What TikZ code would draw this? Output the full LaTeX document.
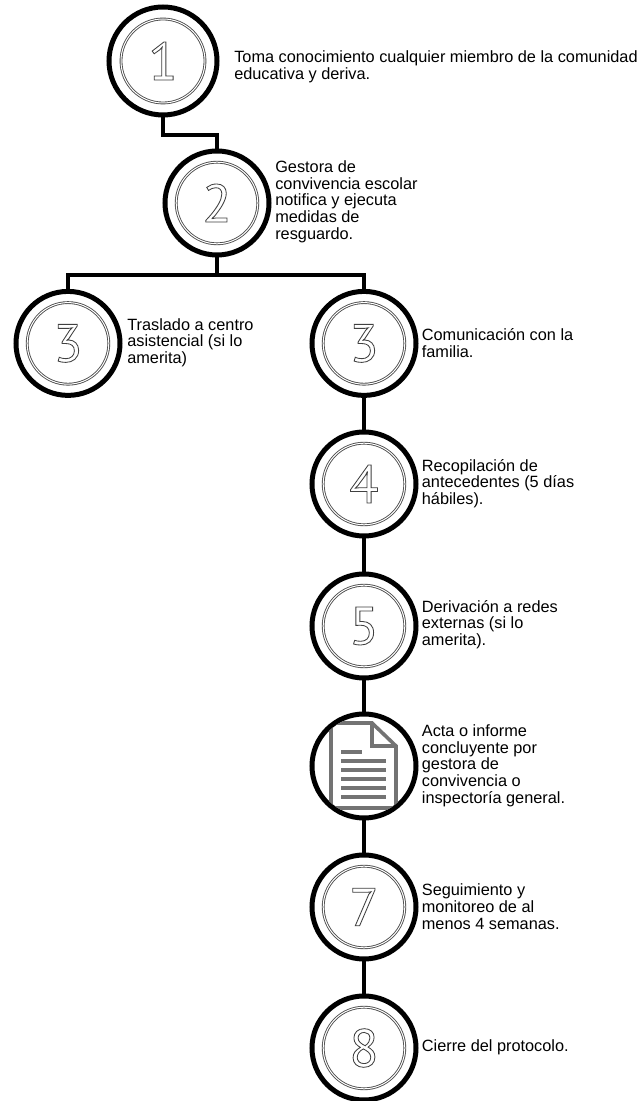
\documentclass[tikz,border=0pt]{standalone}
\usepackage{fontspec}
\setmainfont{Liberation Sans}
\newfontfamily\digitfont{PT Sans}
\usetikzlibrary{positioning}
\newcommand{\outlined}[1]{\special{pdf:code 1 Tr 0.6 w 0.25 G}#1\special{pdf:code 0 Tr}}
\tikzset{
		stepnode/.style={circle, draw=black, fill=white, line width=1.25mm, minimum size=26mm, inner sep=0mm, font=\digitfont\fontsize{38}{38}\selectfont},
		stepring/.style={draw=black!70, line width=0.22mm, double=white, double distance=0.25mm},
		steptext/.style={anchor=west, align=left, inner sep=0mm, font=\fontsize{11.6}{11.95}\selectfont},
		steplink/.style={line width=1.15mm, line cap=rect},
		docline/.style={draw=black!55, line width=0.9mm}
	}
\begin{document}
\begin{tikzpicture}
		\useasboundingbox (0mm,0mm) rectangle (160mm,275.25mm);
		% junctions
		\coordinate (j1) at (40.75mm,241.5mm); \coordinate (j2) at (54.25mm,241.5mm);
		\coordinate (busl) at (17mm,206.5mm); \coordinate (busm) at (54.25mm,206.5mm); \coordinate (busr) at (91mm,206.5mm);
		% circles
		\node[stepnode, minimum size=27mm] (n1) at (40.75mm,260mm) {\outlined{1}};
		\node[stepnode] (n2) at (54.25mm,224.5mm) {\outlined{2}};
		\node[stepnode] (n3a) at (17mm,189.4mm) {\outlined{3}};
		\node[stepnode] (n3b) at (91mm,189.4mm) {\outlined{3}};
		\node[stepnode] (n4) at (91mm,154.25mm) {\outlined{4}};
		\node[stepnode] (n5) at (91mm,118.75mm) {\outlined{5}};
		\node[stepnode] (n6) at (91mm,83.75mm) {};
		\node[stepnode] (n7) at (91mm,48.5mm) {\outlined{7}};
		\node[stepnode] (n8) at (91mm,13.25mm) {\outlined{8}};
		% connectors
		\draw[steplink] (n1) -- (j1) -- (j2) -- (n2);
		\draw[steplink] (n2) -- (busm);
		\draw[steplink] (n3a) -- (busl) -- (busr) -- (n3b);
		\draw[steplink] (n3b) -- (n4); \draw[steplink] (n4) -- (n5); \draw[steplink] (n5) -- (n6); \draw[steplink] (n6) -- (n7); \draw[steplink] (n7) -- (n8);
		% inner rings
		\draw[stepring] (n1.center) circle (10.5mm); \draw[stepring] (n2.center) circle (10.2mm);
		\draw[stepring] (n3a.center) circle (10.2mm); \draw[stepring] (n3b.center) circle (10.2mm);
		\draw[stepring] (n4.center) circle (10.2mm); \draw[stepring] (n5.center) circle (10.2mm);
		\draw[stepring] (n7.center) circle (10.2mm); \draw[stepring] (n8.center) circle (10.2mm);
		% document
		\begin{scope}
			\clip (n6.center) circle (12.4mm);
			\draw[docline, line join=miter] (82.75mm,70mm) -- (82.75mm,94.5mm) -- (93mm,94.5mm) -- (99mm,88.75mm) -- (99mm,70mm);
			\draw[docline] (93mm,94.5mm) -- (93mm,88.75mm) -- (99mm,88.75mm);
			\draw[docline] (80mm,73.25mm) -- (102mm,73.25mm);
		\end{scope}
		\draw[docline] (85.25mm,87.25mm) -- (90.5mm,87.25mm);
		\draw[docline] (85.25mm,85mm) -- (96.5mm,85mm);
		\draw[docline] (85.25mm,82.75mm) -- (96.5mm,82.75mm);
		\draw[docline] (85.25mm,80.5mm) -- (96.5mm,80.5mm);
		\draw[docline] (85.25mm,78.25mm) -- (96.5mm,78.25mm);
		\draw[docline] (85.25mm,76mm) -- (96.5mm,76mm);
		% labels
		\node[steptext] (t1) at (58.5mm,258.5mm) {Toma conocimiento cualquier miembro de la comunidad\\educativa y deriva.};
		\node[steptext] (t2) at (68.75mm,224.85mm) {Gestora de\\convivencia escolar\\notifica y ejecuta\\medidas de\\resguardo.};
		\node[steptext] (t3a) at (31.75mm,189.6mm) {Traslado a centro\\asistencial (si lo\\amerita)};
		\node[steptext] (t3b) at (105.4mm,189.5mm) {Comunicación con la\\familia.};
		\node[steptext] (t4) at (105.4mm,154.35mm) {Recopilación de\\antecedentes (5 días\\hábiles).};
		\node[steptext] (t5) at (105.4mm,119.1mm) {Derivación a redes\\externas (si lo\\amerita).};
		\node[steptext] (t6) at (105.4mm,83.85mm) {Acta o informe\\concluyente por\\gestora de\\convivencia o\\inspectoría general.};
		\node[steptext] (t7) at (105.4mm,48.6mm) {Seguimiento y\\monitoreo de al\\menos 4 semanas.};
		\node[steptext] (t8) at (105.4mm,13.35mm) {Cierre del protocolo.};
	\end{tikzpicture}
\end{document}
